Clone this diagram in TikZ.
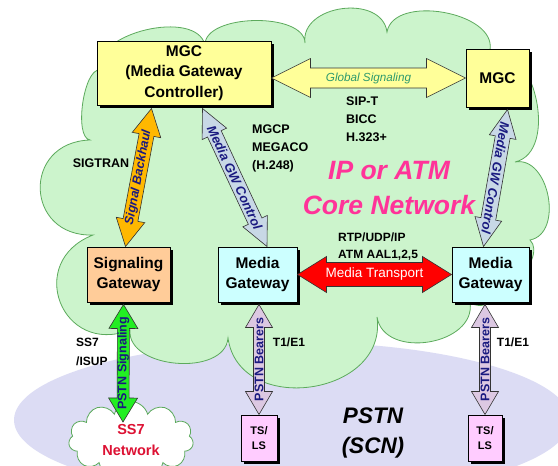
\documentclass[tikz,border=0pt]{standalone}
\usepackage{fontspec}
\setmainfont{Liberation Sans}
\usetikzlibrary{calc, shadows, shapes.symbols}
\definecolor{cloudgreen}{HTML}{CCF4CC}
\definecolor{cloudedge}{HTML}{5CAA5C}
\definecolor{pstnblue}{HTML}{DCDCF4}
\definecolor{mgcyellow}{HTML}{FFFF99}
\definecolor{sgorange}{HTML}{FFCC99}
\definecolor{mgwcyan}{HTML}{CCFFFF}
\definecolor{tspink}{HTML}{FFCCFF}
\definecolor{backhaul}{HTML}{FFB800}
\definecolor{gwcontrol}{HTML}{C8D8E6}
\definecolor{bearers}{HTML}{DCC8E2}
\definecolor{pstngreen}{HTML}{22EE22}
\definecolor{sigteal}{HTML}{2E9A6E}
\definecolor{corepink}{HTML}{FF3399}
\definecolor{labelnavy}{HTML}{1A1A80}
\definecolor{ss7red}{HTML}{DD1133}

% double block arrow: start, end, style, body half, head half, head length
\newcommand{\dblarrow}[6]{%
  \draw[#3] (#1)
    -- ($(#1)!#6!(#2)!#5!90:(#2)$) -- ($(#1)!#6!(#2)!#4!90:(#2)$)
    -- ($(#2)!#6!(#1)!#4!-90:(#1)$) -- ($(#2)!#6!(#1)!#5!-90:(#1)$)
    -- (#2)
    -- ($(#2)!#6!(#1)!#5!90:(#1)$) -- ($(#2)!#6!(#1)!#4!90:(#1)$)
    -- ($(#1)!#6!(#2)!#4!-90:(#2)$) -- ($(#1)!#6!(#2)!#5!-90:(#2)$)
    -- cycle;}

\begin{document}
\begin{tikzpicture}[x=1pt, y=-1pt,
    box/.style={draw=black, line width=1pt, align=center, inner sep=0pt,
      font=\fontsize{15.5}{20.5}\selectfont\bfseries,
      drop shadow={shadow xshift=3pt, shadow yshift=-3pt, opacity=1, fill=black}},
    proto/.style={font=\fontsize{12.5}{18}\selectfont\bfseries, align=left, inner sep=0pt},
    arrowlabel/.style={font=\fontsize{12.5}{13}\selectfont\bfseries\itshape, text=labelnavy, inner sep=0pt},
    blockarrow/.style={draw=black!80, line width=0.6pt, line join=miter}]
  \useasboundingbox (0,0) rectangle (558,466);
  \clip (0,0) rectangle (558,466);
  \fill[white] (0,0) rectangle (558,466);

  % PSTN area and core cloud
  \fill[pstnblue] (292,420) ellipse [x radius=278, y radius=78];
  \draw[fill=cloudgreen, draw=cloudedge, line width=0.8pt]
    (90,140) to[bend left=90, looseness=0.6] (100,70)
    to[bend left=90, looseness=0.9] (205,45)
    to[bend left=90, looseness=0.8] (305,43)
    to[bend left=90, looseness=1.2] (387,32)
    to[bend left=90, looseness=0.95] (490,50)
    to[bend left=90, looseness=1.02] (515,162)
    to[bend left=90, looseness=1.12] (530,240)
    to[bend left=90, looseness=0.8] (470,302)
    to[bend left=90, looseness=1.19] (377,317)
    to[bend left=90, looseness=1.36] (228,338)
    to[bend left=90, looseness=1.02] (130,330)
    to[bend left=90, looseness=1.84] (93,235)
    to[bend left=90, looseness=1.84] (90,140) -- cycle;

  % boxes
  \node[box, fill=mgcyellow, minimum width=174pt, minimum height=64pt] (mgcl) at (184,73) {MGC\\(Media Gateway\\Controller)};
  \node[box, fill=mgcyellow, minimum width=63pt, minimum height=58pt] (mgcr) at (497.5,78) {MGC};
  \node[box, fill=sgorange, minimum width=83pt, minimum height=55pt] (sgw) at (128.5,274.5) {Signaling\\Gateway};
  \node[box, fill=mgwcyan, minimum width=79pt, minimum height=55pt] (mgwl) at (257.5,274.5) {Media\\Gateway};
  \node[box, fill=mgwcyan, minimum width=77pt, minimum height=55pt] (mgwr) at (490.5,274.5) {Media\\Gateway};
  \node[box, fill=tspink, minimum width=36pt, minimum height=46pt, font=\fontsize{11}{15}\selectfont\bfseries] (tsl) at (259,438) {TS/\\LS};
  \node[box, fill=tspink, minimum width=34pt, minimum height=46pt, font=\fontsize{11}{15}\selectfont\bfseries] (tsr) at (485,438) {TS/\\LS};
  \node[cloud, cloud puffs=11, aspect=2.2, draw=cloudedge, fill=white, line width=0.8pt, minimum width=123pt, minimum height=64pt,
    text=ss7red, align=center, font=\fontsize{14.5}{21}\selectfont\bfseries] (ss7) at (131,440) {SS7\\Network};

  % arrow ends
  \coordinate (gsa) at (mgcl.east |- mgcr.west);
  \coordinate (gsb) at (mgcr.west);
  \coordinate (sba) at ([xshift=-3pt]sgw.north);
  \coordinate (sbb) at ([shift={(55,3)}]mgcl.south west);
  \coordinate (gcla) at ([shift={(106,3)}]mgcl.south west);
  \coordinate (gclb) at ([xshift=9.5pt]mgwl.north);
  \coordinate (gcra) at ([shift={(10,2)}]mgcr.south);
  \coordinate (gcrb) at ([xshift=-7pt]mgwr.north);
  \coordinate (mta) at (mgwl.east);
  \coordinate (mtb) at (mgwr.west);
  \coordinate (psa) at ([shift={(-8,-18)}]ss7.center);
  \coordinate (psb) at ([shift={(-5,2)}]sgw.south);
  \coordinate (pbla) at (tsl.north);
  \coordinate (pblb) at ([shift={(0,2)}]tsl.north |- mgwl.south);
  \coordinate (pbra) at (tsr.north);
  \coordinate (pbrb) at ([shift={(0,2)}]tsr.north |- mgwr.south);

  % block arrows
  \dblarrow{gsa}{gsb}{blockarrow, fill=mgcyellow}{10pt}{19.5pt}{39pt}
  \dblarrow{sba}{sbb}{blockarrow, fill=backhaul}{7.5pt}{14.5pt}{27pt}
  \dblarrow{gcla}{gclb}{blockarrow, fill=gwcontrol}{7.5pt}{13.5pt}{28pt}
  \dblarrow{gcra}{gcrb}{blockarrow, fill=gwcontrol}{7.5pt}{13.5pt}{28pt}
  \dblarrow{mta}{mtb}{blockarrow, fill=red}{12pt}{18pt}{29pt}
  \dblarrow{psa}{psb}{blockarrow, fill=pstngreen}{6pt}{14.5pt}{24pt}
  \dblarrow{pbla}{pblb}{blockarrow, fill=bearers}{5.5pt}{13.5pt}{23pt}
  \dblarrow{pbra}{pbrb}{blockarrow, fill=bearers}{5.5pt}{13.5pt}{23pt}

  % arrow labels
  \path (gsa) -- (gsb) node[midway, text=sigteal, font=\fontsize{11.7}{12}\selectfont\itshape] {Global Signaling};
  \path (sba) -- (sbb) node[midway, sloped, arrowlabel] {Signal Backhaul};
  \path (gcla) -- (gclb) node[midway, sloped, arrowlabel, font=\fontsize{13}{13}\selectfont\bfseries\itshape] {Media GW Control};
  \path (gcra) -- (gcrb) node[midway, sloped, allow upside down, arrowlabel, font=\fontsize{13}{13}\selectfont\bfseries\itshape] {Media GW Control};
  \path (mta) -- (mtb) node[midway, text=white, font=\fontsize{13.5}{14}\selectfont] {Media Transport};
  \path (psa) -- (psb) node[midway, sloped, arrowlabel, font=\fontsize{12.5}{13}\selectfont\bfseries] {PSTN Signaling};
  \path (pbla) -- (pblb) node[midway, sloped, arrowlabel, font=\fontsize{12.5}{13}\selectfont\bfseries] {PSTN Bearers};
  \path (pbra) -- (pbrb) node[midway, sloped, arrowlabel, font=\fontsize{12.5}{13}\selectfont\bfseries] {PSTN Bearers};

  % protocol texts
  \node[proto] (sigtran) at (101,163) {SIGTRAN};
  \node[proto, anchor=west] (mgcp) at (252,148) {MGCP\\MEGACO\\(H.248)};
  \node[proto, anchor=west] (sipt) at (346,119) {SIP-T\\BICC\\H.323+};
  \node[proto, anchor=west, font=\fontsize{12}{17}\selectfont\bfseries] (rtp) at (338,246.5) {RTP/UDP/IP\\ATM AAL1,2,5};
  \node[proto, font=\fontsize{12}{17}\selectfont\bfseries] (t1l) at (289,342) {T1/E1};
  \node[proto, font=\fontsize{12}{17}\selectfont\bfseries] (t1r) at (513,342) {T1/E1};
  \node[proto, anchor=west, font=\fontsize{12}{19}\selectfont\bfseries] (isup) at (76,351.5) {SS7\\/ISUP};
  \node[text=corepink, align=center, font=\fontsize{26.5}{35}\selectfont\bfseries\itshape] (core) at (389,188) {IP or ATM\\Core Network};
  \node[align=center, font=\fontsize{22.5}{30}\selectfont\bfseries\itshape] (pstn) at (373,433) {PSTN\\(SCN)};
\end{tikzpicture}
\end{document}
